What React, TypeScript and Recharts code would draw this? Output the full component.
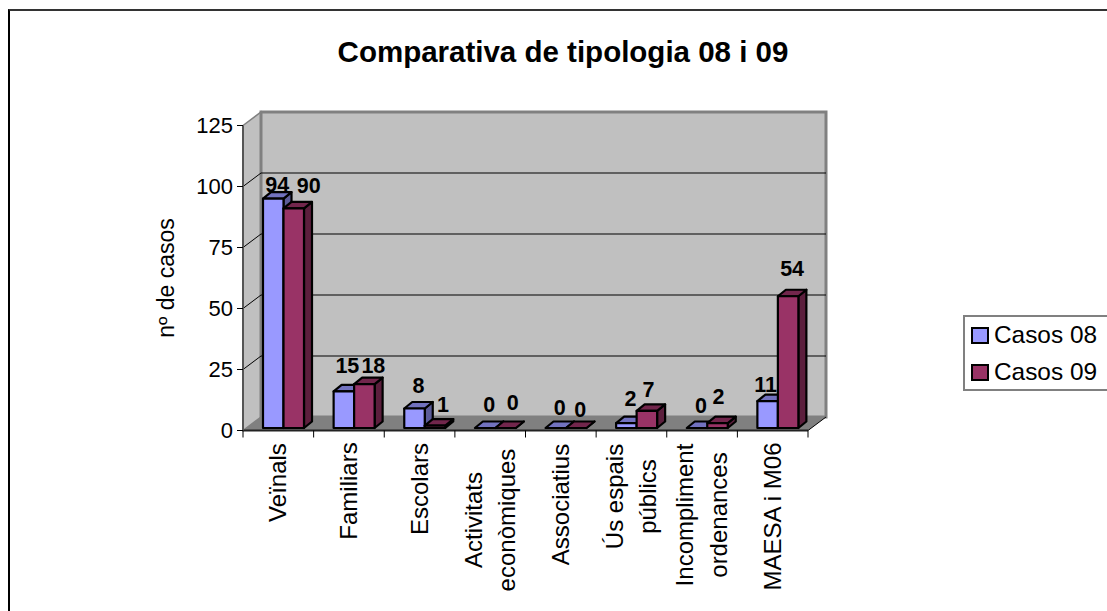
import React from 'react';
import { BarChart, Bar, XAxis, YAxis, ReferenceArea, LabelList, Label, Legend } from 'recharts';

const categories = [
  'Veïnals',
  'Familiars',
  'Escolars',
  'Activitats\neconòmiques',
  'Associatius',
  'Ús espais\npúblics',
  'Incompliment\nordenances',
  'MAESA i M06',
];
const casos08 = [94, 15, 8, 0, 0, 2, 0, 11];
const casos09 = [90, 18, 1, 0, 0, 7, 2, 54];
const yTicks = [0, 25, 50, 75, 100, 125];

const data = categories.map((name, i) => ({ name, casos08: casos08[i], casos09: casos09[i] }));

const FONT = '"Liberation Sans", Arial, sans-serif';
const W = 1107;
const H = 611;
const PLOT = { left: 243, right: 808, top: 125.5, bottom: 430.5 };
const BAND = (PLOT.right - PLOT.left) / categories.length;
const WALL_DX = 18; // 3d offset of the back wall
const WALL_DY = 13.5;
const BAR_DX = 5; // bars sit a bit inside the floor
const BAR_DY = 2.5;
const DEPTH_X = 8;
const DEPTH_Y = 6.5;

// hand placement of the excel-style labels, relative to the top front of each bar
const nudge08 = [[4, -7], [3.5, -18], [4, -15], [4, -16], [4, -13], [4, -17], [4, -15], [-2, -9]];
const nudge09 = [[15, -15], [9, -11], [8, -13.5], [7, -18], [4, -11], [1.5, -14], [1, -19], [4, -20]];
// vertical centre of each rotated category label
const tickCentres = [482.5, 491, 489, 520, 504.5, 496.5, 515, 516.5];

const pts = (list: number[][]) => list.map((p) => p.join(',')).join(' ');

const Walls = (props: any) => {
  const { x, y, width, height } = props;
  const r = x + width;
  const b = y + height;
  return (
    <g>
      {/* left wall */}
      <polygon
        points={pts([[x, y], [x + WALL_DX, y - WALL_DY], [x + WALL_DX, b - WALL_DY], [x, b]])}
        fill="#C0C0C0"
        stroke="#808080"
        strokeWidth={1.5}
      />
      {/* back wall */}
      <rect x={x + WALL_DX} y={y - WALL_DY} width={width} height={height} fill="#C0C0C0" stroke="#808080" strokeWidth={3} />
      {/* floor */}
      <polygon
        points={pts([[x, b], [x + WALL_DX, b - WALL_DY], [r + WALL_DX, b - WALL_DY], [r, b]])}
        fill="#808080"
      />
      <line x1={r} y1={b} x2={r + WALL_DX} y2={b - WALL_DY} stroke="#000" strokeWidth={1} />
      {yTicks.slice(1, -1).map((t) => {
        const gy = b - (t / 125) * height;
        return (
          <g key={t}>
            <line x1={x} y1={gy} x2={x + WALL_DX} y2={gy - WALL_DY} stroke="#000" strokeWidth={1} />
            <line x1={x + WALL_DX} y1={gy - WALL_DY} x2={r + WALL_DX} y2={gy - WALL_DY} stroke="#000" strokeWidth={1} />
          </g>
        );
      })}
    </g>
  );
};

const Box = (props: any) => {
  const { x, y, width, height, fill, topFill, sideFill } = props;
  const l = x + BAR_DX;
  const t = y - BAR_DY;
  const r = l + width;
  const b = t + height;
  return (
    <g stroke="#000" strokeWidth={2.2} strokeLinejoin="round">
      <polygon points={pts([[r, t], [r + DEPTH_X, t - DEPTH_Y], [r + DEPTH_X, b - DEPTH_Y], [r, b]])} fill={sideFill} />
      <polygon points={pts([[l, t], [l + DEPTH_X, t - DEPTH_Y], [r + DEPTH_X, t - DEPTH_Y], [r, t]])} fill={topFill} />
      <rect x={l} y={t} width={width} height={height} fill={fill} />
    </g>
  );
};

const valueLabel = (nudges: number[][]) => (props: any) => {
  const { x, y, width, value, index } = props;
  const [dx, dy] = nudges[index];
  return (
    <text
      x={x + BAR_DX + width / 2 + dx}
      y={y - BAR_DY + dy}
      textAnchor="middle"
      fontFamily={FONT}
      fontWeight="bold"
      fontSize={21.5}
      fill="#000"
    >
      {value}
    </text>
  );
};

const CategoryTick = (props: any) => {
  const { x, payload, index } = props;
  const lines = String(payload.value).split('\n');
  const isLast = index === categories.length - 1;
  return (
    <g>
      <line x1={x - BAND / 2} y1={PLOT.bottom} x2={x - BAND / 2} y2={PLOT.bottom + 7} stroke="#000" strokeWidth={1} />
      {isLast && <line x1={x + BAND / 2} y1={PLOT.bottom} x2={x + BAND / 2} y2={PLOT.bottom + 7} stroke="#000" strokeWidth={1} />}
      {lines.map((line, i) => {
        const tx = x + (i - (lines.length - 1) / 2) * 33.5 - 0.5;
        const ty = tickCentres[index];
        return (
          <text
            key={line}
            transform={`rotate(-90 ${tx} ${ty})`}
            x={tx}
            y={ty}
            dy="0.36em"
            textAnchor="middle"
            fontFamily={FONT}
            fontSize={24}
            fill="#000"
          >
            {line}
          </text>
        );
      })}
    </g>
  );
};

const LegendBox = ({ payload }: any) => (
  <div
    style={{
      boxSizing: 'border-box',
      width: 160,
      height: 76,
      border: '2px solid #808080',
      background: '#fff',
      fontFamily: FONT,
      fontSize: 24.4,
      color: '#000',
      position: 'relative',
    }}
  >
    {(payload || []).map((entry: any, i: number) => (
      <div key={entry.value}>
        <div
          style={{
            position: 'absolute',
            left: 6,
            top: 10 + i * 36.5,
            width: 18,
            height: 17,
            boxSizing: 'border-box',
            border: '2px solid #000',
            background: entry.color,
          }}
        />
        <div style={{ position: 'absolute', left: 29, top: 4 + i * 36.5, lineHeight: '28px', whiteSpace: 'nowrap' }}>
          {entry.value}
        </div>
      </div>
    ))}
  </div>
);

export default function App() {
  return (
    <div style={{ position: 'absolute', left: 0, top: 0, width: W, height: H, overflow: 'hidden', background: '#fff' }}>
      <div
        style={{
          position: 'absolute',
          left: 8,
          top: 9,
          width: W,
          height: H,
          borderLeft: '2px solid #000',
          borderTop: '2px solid #333',
        }}
      />
      <div
        style={{
          position: 'absolute',
          left: 0,
          top: 33,
          width: 1126,
          textAlign: 'center',
          fontFamily: FONT,
          fontWeight: 'bold',
          fontSize: 29.5,
          lineHeight: '38px',
          color: '#000',
        }}
      >
        Comparativa de tipologia 08 i 09
      </div>
      <div style={{ position: 'absolute', left: 0, top: 0 }}>
        <BarChart
          width={W}
          height={H}
          data={data}
          barSize={20.5}
          barGap={0}
          margin={{ top: PLOT.top, right: W - PLOT.right, bottom: 0, left: 0 }}
        >
          <XAxis
            dataKey="name"
            interval={0}
            height={H - PLOT.bottom}
            tick={CategoryTick}
            tickLine={false}
            axisLine={{ stroke: '#222', strokeWidth: 2 }}
          />
          <YAxis
            width={PLOT.left}
            domain={[0, 125]}
            ticks={yTicks}
            tickSize={6}
            tickMargin={4}
            interval={0}
            tick={{ fontFamily: FONT, fontSize: 22, fill: '#000' }}
            tickLine={{ stroke: '#000', strokeWidth: 1 }}
            axisLine={{ stroke: '#555', strokeWidth: 2 }}
          >
            <Label
              value="nº de casos"
              angle={-90}
              position="insideLeft"
              offset={166}
              style={{ fontFamily: FONT, fontSize: 23, fill: '#000', textAnchor: 'middle' }}
            />
          </YAxis>
          <ReferenceArea y1={0} y2={125} shape={Walls} />
          <Legend
            layout="vertical"
            align="center"
            verticalAlign="middle"
            content={LegendBox}
            wrapperStyle={{ position: 'absolute', left: 963, top: 315, width: 160, height: 76 }}
          />
          <Bar
            dataKey="casos08"
            name="Casos 08"
            fill="#9999FF"
            isAnimationActive={false}
            shape={(p: any) => <Box {...p} fill="#9999FF" topFill="#7272BF" sideFill="#5C5C99" />}
          >
            <LabelList dataKey="casos08" content={valueLabel(nudge08)} />
          </Bar>
          <Bar
            dataKey="casos09"
            name="Casos 09"
            fill="#993366"
            isAnimationActive={false}
            shape={(p: any) => <Box {...p} fill="#993366" topFill="#72264C" sideFill="#5C1F3D" />}
          >
            <LabelList dataKey="casos09" content={valueLabel(nudge09)} />
          </Bar>
        </BarChart>
      </div>
    </div>
  );
}
